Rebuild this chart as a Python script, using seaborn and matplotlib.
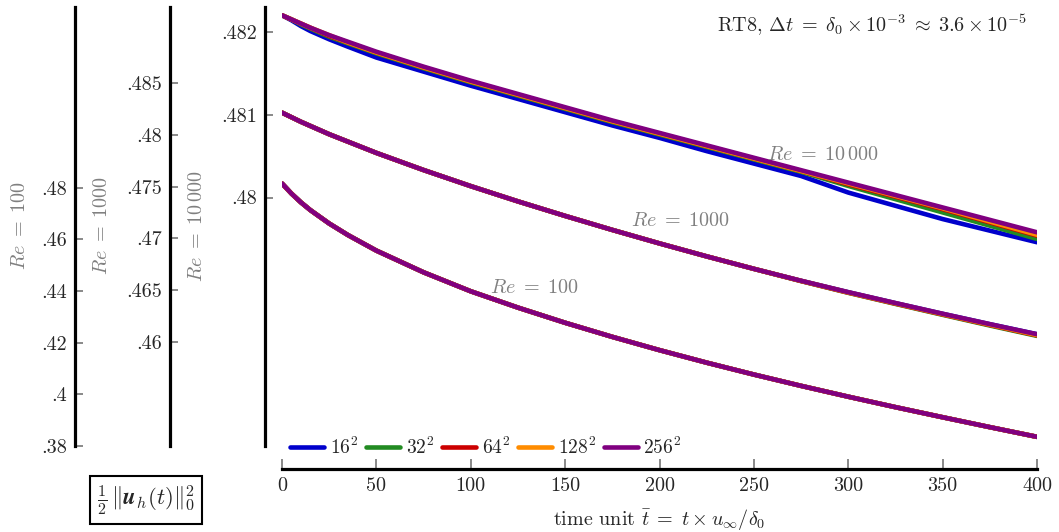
import numpy as np
import pandas as pd
import matplotlib
matplotlib.use("Agg")
import matplotlib.pyplot as plt
import seaborn as sns

# ---------------- data ----------------
t = [0, 5, 10, 15, 25, 35, 50, 75, 100, 125, 150, 175, 200, 225, 250, 275, 300,
     325, 350, 375, 400]
meshes = ["16", "32", "64", "128", "256"]
colors = ["#0000CC", "#228B22", "#CC0000", "#FF8C00", "#800080"]

re100_all = [.48166, .47776, .47436, .47136, .46616, .46166, .45566, .44726, .43991,
             .43359, .42772, .42226, .41712, .41227, .40767, .40329, .39909, .39504,
             .39113, .38730, .38355]

re1000_16 = [.48212, .48168, .48124, .48084, .48004, .47932, .47824, .47659, .47504,
             .47357, .47217, .47082, .46952, .46827, .46707, .46592, .46482, .46377,
             .46274, .46174, .46077]
re1000_32 = [.48212, .48168, .48124, .48084, .48004, .47932, .47824, .47659, .47504,
             .47357, .47217, .47082, .46952, .46827, .46707, .46589, .46476, .46369,
             .46264, .46161, .46061]
re1000_64 = [.48212, .48168, .48124, .48084, .48004, .47932, .47824, .47659, .47504,
             .47357, .47217, .47082, .46952, .46827, .46707, .46590, .46478, .46372,
             .46268, .46166, .46066]
re1000_128 = [.48212, .48168, .48124, .48084, .48004, .47932, .47824, .47659, .47504,
              .47357, .47217, .47082, .46952, .46827, .46707, .46591, .46479, .46374,
              .46270, .46169, .46069]
re1000_256 = [.48212, .48168, .48124, .48084, .48004, .47932, .47824, .47659, .47504,
              .47357, .47217, .47082, .46952, .46827, .46707, .46592, .46482, .46377,
              .46274, .46174, .46077]

re10000_16 = [.48220, .48214, .48207, .48201, .48191, .48182, .48169, .48152, .48135,
              .48119, .48103, .48087, .48072, .48056, .48041, .48026, .48006, .47990,
              .47974, .47960, .47946]
re10000_32 = [.48220, .48215, .48209, .48204, .48194, .48186, .48174, .48156, .48139,
              .48123, .48107, .48091, .48076, .48061, .48046, .48031, .48014, .47998,
              .47982, .47966, .47950]
re10000_64 = [.48220, .48215, .48210, .48205, .48195, .48187, .48175, .48157, .48140,
              .48124, .48108, .48092, .48077, .48062, .48047, .48032, .48016, .48001,
              .47986, .47970, .47954]
re10000_128 = [.48220, .48215, .48210, .48205, .48196, .48187, .48175, .48157, .48140,
               .48124, .48108, .48092, .48077, .48062, .48047, .48032, .48017, .48002,
               .47987, .47971, .47955]
re10000_256 = [.48220, .48215, .48210, .48205, .48196, .48188, .48176, .48158, .48141,
               .48125, .48109, .48093, .48078, .48063, .48048, .48033, .48018, .48003,
               .47988, .47973, .47958]

re100_series = [re100_all] * 5
re1000_series = [re1000_16, re1000_32, re1000_64, re1000_128, re1000_256]
re10000_series = [re10000_16, re10000_32, re10000_64, re10000_128, re10000_256]

x_ticks = [0, 50, 100, 150, 200, 250, 300, 350, 400]
ticks_10000 = [.480, .481, .482]
labels_10000 = [".48", ".481", ".482"]
ticks_1000 = [.46, .465, .47, .475, .48, .485]
labels_1000 = [".46", ".465", ".47", ".475", ".48", ".485"]
ticks_100 = [.38, .40, .42, .44, .46, .48]
labels_100 = [".38", ".4", ".42", ".44", ".46", ".48"]

# ---------------- style ----------------
sns.set_style("white")
plt.rcParams["font.family"] = ["cmr10", "DejaVu Serif"]
plt.rcParams["mathtext.fontset"] = "cm"
plt.rcParams["axes.unicode_minus"] = False
plt.rcParams["axes.formatter.use_mathtext"] = True

W, H = 1059, 532
fig = plt.figure(figsize=(W / 100, H / 100), dpi=100)
ax = fig.add_axes([282 / W, 1 - 446 / H, 755 / W, 439 / H])
ax1000 = ax.twinx()
ax100 = ax.twinx()

LW = 3.3
for i, m in enumerate(meshes):
    sns.lineplot(x=t, y=re10000_series[i], ax=ax, color=colors[i], lw=LW,
                 label=f"${m}^2$", legend=False)
    sns.lineplot(x=t, y=re1000_series[i], ax=ax1000, color=colors[i], lw=LW, legend=False)
    sns.lineplot(x=t, y=re100_series[i], ax=ax100, color=colors[i], lw=LW, legend=False)

ax.set_xlim(0, 400)
ax.set_ylim(.477, .4823)
ax1000.set_ylim(.45, .4923)
ax100.set_ylim(.38, .55)

ax.set_yticks(ticks_10000, labels_10000)
ax1000.set_yticks(ticks_1000, labels_1000)
ax100.set_yticks(ticks_100, labels_100)
ax.set_xticks(x_ticks, [str(v) for v in x_ticks])

FS = 14.5
for a, off in [(ax, 17), (ax1000, 112), (ax100, 207)]:
    a.set_xlabel("")
    a.set_ylabel("")
    a.spines["top"].set_visible(False)
    a.spines["right"].set_visible(False)
    a.spines["left"].set_visible(True)
    a.spines["left"].set_position(("axes", -off / 755))
    a.spines["left"].set_linewidth(2.3)
    a.spines["left"].set_color("black")
    a.yaxis.set_ticks_position("left")
    a.yaxis.set_label_position("left")
    a.tick_params(axis="y", direction="in", length=6, width=1.3, color="grey",
                  pad=6, labelsize=FS, left=True, right=False)
    if a is not ax:
        a.spines["bottom"].set_visible(False)

ax.spines["bottom"].set_position(("axes", -23 / 439))
ax.spines["bottom"].set_linewidth(2.3)
ax.spines["bottom"].set_color("black")
ax.tick_params(axis="x", direction="in", length=7, width=1.3, color="grey",
               pad=6, labelsize=FS, bottom=True)

# axis labels
ax.set_xlabel(r"time unit $\bar{t}\;=\;t \times u_\infty/\delta_0$", fontsize=FS)
ax.xaxis.set_label_coords(0.5, -0.140)

for xpx, s in [(20, r"$Re\;=\;100$"), (102, r"$Re\;=\;1000$"), (197, r"$Re\;=\;10\,000$")]:
    fig.text(xpx / W, 1 - 226 / H, s, rotation=90, ha="center", va="center",
             color="grey", fontsize=FS)

fig.text(146 / W, 1 - 500 / H, r"$\frac{1}{2}\,\Vert \mathbfit{u}_h(t)\Vert_0^2$",
         ha="center", va="center", fontsize=16.5,
         bbox=dict(boxstyle="square,pad=0.3", fc="white", ec="black", lw=1.5))

# annotations
tr = ax.get_xaxis_transform()
ax.text(257, 0.663, r"$Re\;=\;10\,000$", transform=tr, ha="left", va="center",
        color="grey", fontsize=FS)
ax.text(185, 0.5125, r"$Re\;=\;1000$", transform=tr, ha="left", va="center",
        color="grey", fontsize=FS)
ax.text(110, 0.36, r"$Re\;=\;100$", transform=tr, ha="left", va="center",
        color="grey", fontsize=FS)

ax.text(0.9868, 0.959,
        r"RT8, $\Delta t\;=\;\delta_0 \times 10^{-3}\;\approx\;3.6 \times 10^{-5}$",
        transform=ax.transAxes, ha="right", va="center", fontsize=FS)

handles, labels = ax.get_legend_handles_labels()
ax.legend(handles, labels, loc="center left", bbox_to_anchor=(8 / 755, -1 / 439),
          ncol=5, frameon=False, fontsize=14, handlelength=1.75, handletextpad=0.3,
          columnspacing=0.4, borderpad=0, borderaxespad=0)

fig.savefig("out.png", dpi=100)
